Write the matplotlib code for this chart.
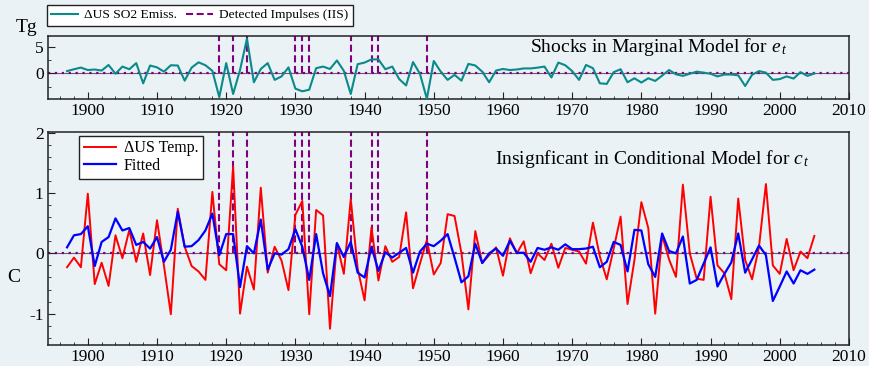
import matplotlib
matplotlib.use('Agg')
import matplotlib.pyplot as plt
from matplotlib.lines import Line2D
from matplotlib.ticker import MultipleLocator
import numpy as np

# data
years_so2 = list(range(1897, 2006))
so2 = [0.4, 0.75, 1.06, 0.6, 0.7, 0.5, 1.55, -0.1, 1.25, 0.75,
       1.9, -1.9, 1.45, 1.1, 0.3, 1.5, 1.45, -1.4, 1.05, 2.05,
       1.5, 0.45, -4.5, 1.9, -3.9, 0.6, 6.5, -1.7, 0.8, 1.9,
       -1.25, -0.6, 1.1, -2.9, -3.4, -3.1, 0.95, 1.25, 0.8, 2.4,
       0.45, -3.9, 1.7, 2.0, 2.6, 2.6, 0.75, 1.25, -1.1, -2.3,
       2.1, -0.1, -4.8, 2.3, 0.3, -1.25, -0.3, -1.4, 1.75, 1.45,
       0.3, -1.7, 0.5, 0.8, 0.6, 0.7, 0.9, 0.9, 1.05, 1.25,
       -0.8, 2.0, 1.5, 0.4, -1.25, 1.55, 0.95, -1.9, -2.0, 0.2,
       0.75, -1.7, -0.95, -1.75, -0.95, -1.45, -0.45, 0.6, -0.2, -0.5,
       -0.1, 0.3, 0.1, -0.1, -0.6, -0.25, -0.25, -0.4, -2.4, -0.3,
       0.4, 0.1, -1.25, -1.1, -0.6, -1.0, 0.2, -0.5, -0.05]

years_temp = list(range(1897, 2006))
temp = [-0.23, -0.07, -0.23, 0.99, -0.51, -0.155, -0.54, 0.30, -0.08, 0.39,
        -0.14, 0.33, -0.36, 0.55, -0.2, -1.01, 0.74, 0.11, -0.21, -0.3,
        -0.44, 1.02, -0.18, -0.28, 1.44, -1.0, -0.22, -0.6, 1.09, -0.32,
        0.11, -0.12, -0.61, 0.64, 0.87, -1.01, 0.72, 0.63, -1.25, 0.17,
        -0.34, 0.9, -0.25, -0.78, 0.43, -0.45, 0.12, -0.14, -0.06, 0.68,
        -0.58, -0.17, 0.22, -0.35, -0.16, 0.65, 0.62, 0.0, -0.93, 0.37,
        -0.16, -0.03, 0.1, -0.37, 0.25, 0.0, 0.2, -0.33, 0.0, -0.11,
        0.16, -0.24, 0.09, 0.06, 0.03, -0.17, 0.51, -0.05, -0.43, 0.08,
        0.61, -0.84, -0.11, 0.85, 0.42, -1.0, 0.3, -0.1, -0.39, 1.14,
        0.0, -0.42, -0.44, 0.94, -0.2, -0.33, -0.76, 0.91, -0.11, -0.43,
        0.11, 1.15, -0.2, -0.34, 0.24, -0.28, 0.03, -0.08, 0.29]
fitted = [0.1, 0.3, 0.32, 0.45, -0.21, 0.19, 0.27, 0.58, 0.38, 0.42,
          0.14, 0.19, 0.08, 0.27, -0.14, 0.06, 0.69, 0.11, 0.12, 0.22,
          0.38, 0.66, -0.03, 0.32, 0.32, -0.56, 0.12, 0.0, 0.56, -0.27,
          0.0, -0.02, 0.07, 0.4, 0.11, -0.44, 0.32, -0.33, -0.71, 0.17,
          -0.06, 0.19, -0.32, -0.4, 0.11, -0.29, 0.02, -0.07, 0.01, 0.09,
          -0.32, 0.03, 0.16, 0.12, 0.21, 0.32, -0.07, -0.48, -0.38, 0.16,
          -0.16, 0.0, 0.08, -0.04, 0.21, 0.01, 0.01, -0.14, 0.09, 0.06,
          0.1, 0.06, 0.15, 0.07, 0.07, 0.08, 0.11, -0.23, -0.14, 0.19,
          0.14, -0.3, 0.39, 0.38, -0.18, -0.39, 0.33, 0.04, 0.0, 0.28,
          -0.5, -0.44, -0.17, 0.1, -0.55, -0.34, -0.15, 0.33, -0.32, -0.1,
          0.13, -0.03, -0.79, -0.55, -0.3, -0.5, -0.28, -0.34, -0.27]

impulse_years = [1919, 1921, 1923, 1930, 1931, 1932, 1938, 1941, 1942, 1949]

BG = '#eaf2f6'
TEAL = '#0a8a8a'
PURPLE = '#800080'

plt.rcParams['font.family'] = ['Liberation Serif', 'DejaVu Serif']
plt.rcParams['mathtext.fontset'] = 'custom'
plt.rcParams['mathtext.rm'] = 'Liberation Serif'
plt.rcParams['mathtext.it'] = 'Liberation Serif:italic'
plt.rcParams['axes.unicode_minus'] = False

fig = plt.figure(figsize=(8.7, 3.66), dpi=100, facecolor=BG)
ax1 = fig.add_axes([0.0548, 0.7287, 0.921, 0.173])
ax2 = fig.add_axes([0.0548, 0.0574, 0.921, 0.583])


def style_axes(ax):
    ax.set_facecolor(BG)
    ax.set_xlim(1894.2, 2010)
    ax.xaxis.set_major_locator(MultipleLocator(10))
    ax.xaxis.set_minor_locator(MultipleLocator(2))
    ax.tick_params(which='both', direction='in', top=False, right=False,
                   labelsize=12.5, pad=3, color='#222222')
    ax.tick_params(which='major', length=5)
    ax.tick_params(which='minor', length=2.5)
    for s in ax.spines.values():
        s.set_linewidth(1.1)
        s.set_color('#222222')
    # zero line: thin solid plus dotted purple
    ax.axhline(0, color='#6a5a70', lw=0.8, zorder=1)
    ax.axhline(0, color=PURPLE, lw=1.6, ls=(0, (1, 2.1)), zorder=1)


style_axes(ax1)
style_axes(ax2)

# top panel
ax1.set_ylim(-4.9, 7.0)
ax1.yaxis.set_major_locator(MultipleLocator(5))
ax1.yaxis.set_minor_locator(MultipleLocator(2.5))
ax1.vlines(impulse_years, 0, 7.0, colors=PURPLE, lw=1.5,
           linestyles=[(0, (3.4, 1.7))], zorder=2)
ax1.plot(years_so2, so2, color=TEAL, lw=1.5, zorder=3)
ax1.text(0.9226, 0.83, r'Shocks in Marginal Model for $e_{\,t}$', transform=ax1.transAxes,
         ha='right', va='center', fontsize=14)

# bottom panel
ax2.set_ylim(-1.52, 2.02)
ax2.yaxis.set_major_locator(MultipleLocator(1))
ax2.yaxis.set_minor_locator(MultipleLocator(0.2))
ax2.vlines(impulse_years, 0, 2.02, colors=PURPLE, lw=1.5,
           linestyles=[(0, (3.4, 1.7))], zorder=2)
ax2.plot(years_temp, temp, color='#ff0000', lw=1.4, zorder=3, label='\u0394US Temp.')
ax2.plot(years_temp, fitted, color='#0000ff', lw=1.6, zorder=4, label='Fitted')
ax2.text(0.951, 0.872, r'Insignficant in Conditional Model for $c_{\,t}$', transform=ax2.transAxes,
         ha='right', va='center', fontsize=14)

leg2 = ax2.legend(loc='upper left', bbox_to_anchor=(0.039, 0.981), borderaxespad=0,
                  fontsize=11.5, frameon=True, fancybox=False, edgecolor='#222222',
                  facecolor='white', framealpha=1, handlelength=2.0,
                  handletextpad=0.5, borderpad=0.3, labelspacing=0.1)
leg2.get_frame().set_linewidth(1.0)

# figure legend above the top panel
handles = [Line2D([], [], color=TEAL, lw=1.5),
           Line2D([], [], color=PURPLE, lw=1.5, ls=(0, (3.4, 1.7)))]
leg1 = fig.legend(handles, ['\u0394US SO2 Emiss.', 'Detected Impulses (IIS)'],
                  loc='upper left', bbox_to_anchor=(47 / 870, 1 - 5 / 366), ncol=2,
                  fontsize=9.7, frameon=True, fancybox=False, edgecolor='#222222',
                  facecolor='white', framealpha=1, handlelength=2.0,
                  handletextpad=0.45, borderpad=0.3, columnspacing=0.7, borderaxespad=0)
leg1.get_frame().set_linewidth(1.0)

fig.text(27 / 870, 1 - 28 / 366, 'Tg', ha='center', va='center', fontsize=14)
fig.text(14 / 870, 1 - 277 / 366, 'C', ha='center', va='center', fontsize=14)

fig.savefig('out.png', dpi=100, facecolor=BG)
